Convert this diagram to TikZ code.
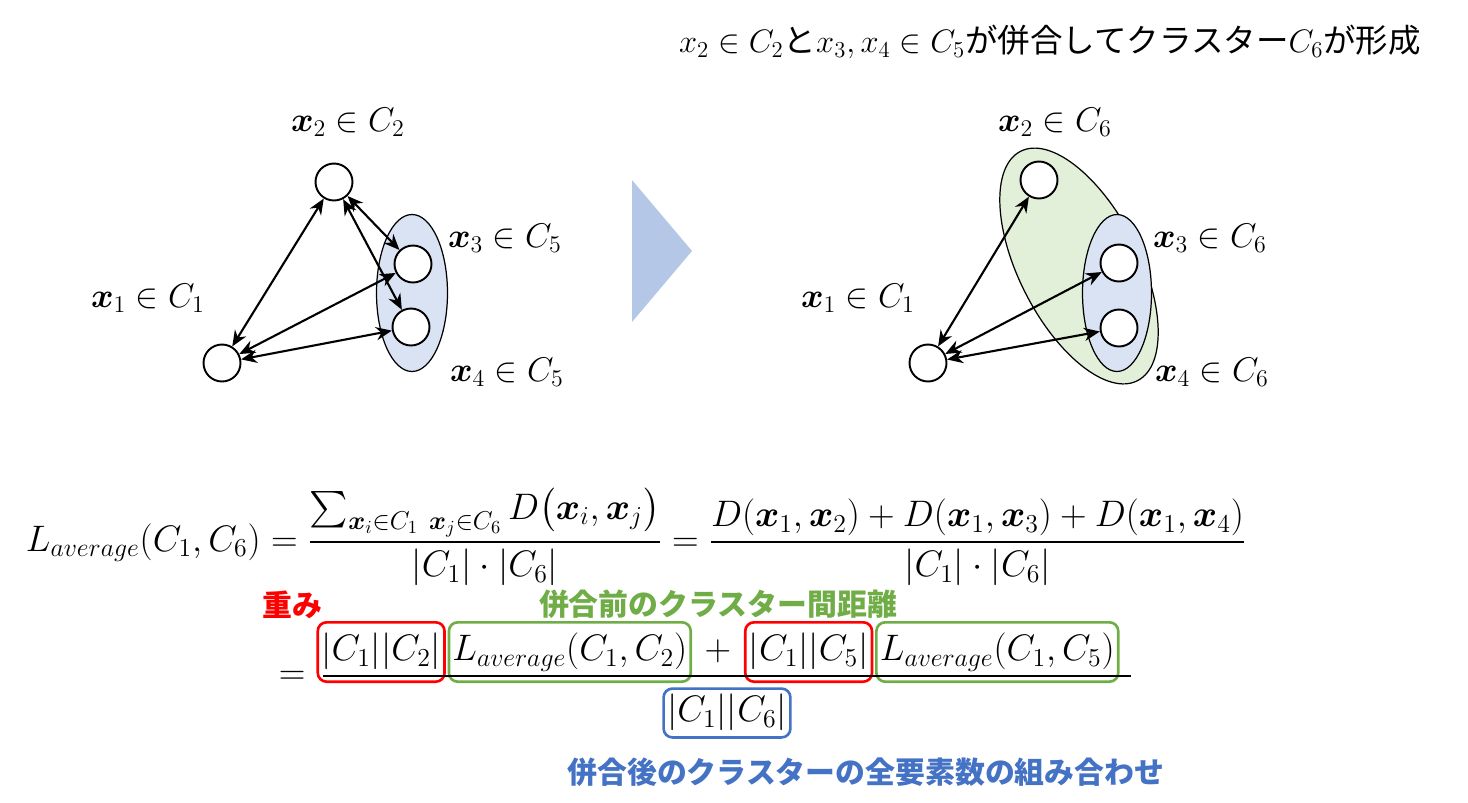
\RequirePackage{fix-cm}
\documentclass[tikz,border=0pt]{standalone}
\usepackage{amsmath,bm}
\usepackage{fontspec}
\newfontfamily\jpfont{Noto Sans CJK JP}
\usetikzlibrary{positioning,shapes.geometric,calc,arrows.meta}

\definecolor{clusterblue}{HTML}{DAE3F3}
\definecolor{clustergreen}{HTML}{E2F0D9}
\definecolor{stepblue}{HTML}{B4C7E7}
\definecolor{weightred}{HTML}{FF0000}
\definecolor{distgreen}{HTML}{70AD47}
\definecolor{countblue}{HTML}{4472C4}

\begin{document}
\begin{tikzpicture}[
  x=0.02cm, y=0.02cm,
  pt/.style={circle, draw, line width=1.1pt, fill=white, minimum size=0.74cm, inner sep=0pt},
  member/.style={font=\fontsize{19.5}{23}\selectfont, inner sep=1pt},
  link/.style={{Stealth[length=9pt,width=7.5pt]}-{Stealth[length=9pt,width=7.5pt]}, line width=1.2pt},
  bluegrp/.style={ellipse, draw, line width=0.7pt, fill=clusterblue, inner sep=0pt},
  greengrp/.style={ellipse, draw, line width=0.7pt, fill=clustergreen, inner sep=0pt},
  term/.style={font=\fontsize{21}{25}\selectfont, text height=15.5pt, text depth=5.3pt,
               inner xsep=2pt, inner ysep=6.5pt},
  redbox/.style={term, draw=weightred, line width=1.5pt, rounded corners=5pt},
  greenbox/.style={term, draw=distgreen, line width=1.5pt, rounded corners=5pt},
  bluebox/.style={term, draw=countblue, line width=1.5pt, rounded corners=5pt, inner ysep=3.5pt},
  note/.style={font=\jpfont\bfseries\fontsize{17}{20}\selectfont, inner sep=1pt}
]
\useasboundingbox (0,0) rectangle (1468,-802);

% Headline of the merge step.
\node[font=\fontsize{18.5}{22}\selectfont\jpfont] (head) at (1050,-42)
  {$x_2\in C_2$と$x_3,x_4\in C_5$が併合してクラスター$C_6$が形成};

% Before the merge: C5 holds x3 and x4.
\node[bluegrp, minimum width=1.42cm, minimum height=3.14cm] (grpL) at (412,-293) {};
\node[pt] (a2) at (334,-182) {};
\node[pt] (a3) at (413,-264) {};
\node[pt] (a4) at (411,-327) {};
\node[pt] (a1) at (222,-363) {};
\node[member] (ma2) at (348,-122) {$\bm{x}_2\in C_2$};
\node[member] (ma3) at (505,-238) {$\bm{x}_3\in C_5$};
\node[member] (ma1) at (148,-298) {$\bm{x}_1\in C_1$};
\node[member] (ma4) at (507,-372) {$\bm{x}_4\in C_5$};
\draw[link] (a2) -- (a1);
\draw[link] (a2) -- (a3);
\draw[link] (a2) -- (a4);
\draw[link] (a1) -- (a3);
\draw[link] (a1) -- (a4);

% Step arrow.
\fill[stepblue] (632,-180) -- (692,-251) -- (632,-322) -- cycle;

% After the merge: C6 holds x2, x3 and x4.
\node[greengrp, minimum width=5.15cm, minimum height=2.4cm, rotate=-63] (grpR) at (1079,-266) {};
\node[bluegrp, minimum width=1.38cm, minimum height=3.14cm] (grpS) at (1117,-293) {};
\node[pt] (b2) at (1039,-180) {};
\node[pt] (b3) at (1119,-263) {};
\node[pt] (b4) at (1119,-328) {};
\node[pt] (b1) at (928,-363) {};
\node[member] (mb2) at (1055,-122) {$\bm{x}_2\in C_6$};
\node[member] (mb3) at (1210,-238) {$\bm{x}_3\in C_6$};
\node[member] (mb1) at (858,-298) {$\bm{x}_1\in C_1$};
\node[member] (mb4) at (1212,-372) {$\bm{x}_4\in C_6$};
\draw[link] (b1) -- (b2);
\draw[link] (b1) -- (b3);
\draw[link] (b1) -- (b4);

% Average linkage, written out.
\node[font=\fontsize{21}{25}\selectfont] (avg) at (636,-537)
  {$L_{average}(C_1,C_6)
    =\dfrac{\sum_{\bm{x}_i\in C_1\ \bm{x}_j\in C_6} D\bigl(\bm{x}_i,\bm{x}_j\bigr)}{|C_1|\cdot|C_6|}
    =\dfrac{D(\bm{x}_1,\bm{x}_2)+D(\bm{x}_1,\bm{x}_3)+D(\bm{x}_1,\bm{x}_4)}{|C_1|\cdot|C_6|}$};

% Same value from the distances before the merge.
\node[term] (plus) at (718,-652) {$+$};
\node[greenbox, left=5pt of plus] (d1) {$L_{average}(C_1,C_2)$};
\node[redbox, left=1pt of d1] (w1) {$|C_1||C_2|$};
\node[redbox, right=5pt of plus] (w2) {$|C_1||C_5|$};
\node[greenbox, right=1pt of w2] (d2) {$L_{average}(C_1,C_5)$};
\coordinate (bar) at (0,-676);
\coordinate (barL) at ($(w1.west |- bar)+(7,0)$);
\coordinate (barR) at ($(d2.east |- bar)+(11,0)$);
\draw[line width=1pt] (barL) -- (barR);
\node[term, left=8pt of barL] (eq2) {$=$};
\node[bluebox] (den) at ($(barL)!0.5!(barR)+(0,-37)$) {$|C_1||C_6|$};

\node[note, text=weightred, anchor=south east] (wlbl) at ($(w1.north west)+(8,0)$) {重み};
\node[note, text=distgreen, anchor=south] (dlbl) at (plus |- d1.north) {併合前のクラスター間距離};
\node[note, text=countblue, anchor=north west] (clbl) at ($(den.south west)+(-97,-17)$)
  {併合後のクラスターの全要素数の組み合わせ};

\end{tikzpicture}
\end{document}
